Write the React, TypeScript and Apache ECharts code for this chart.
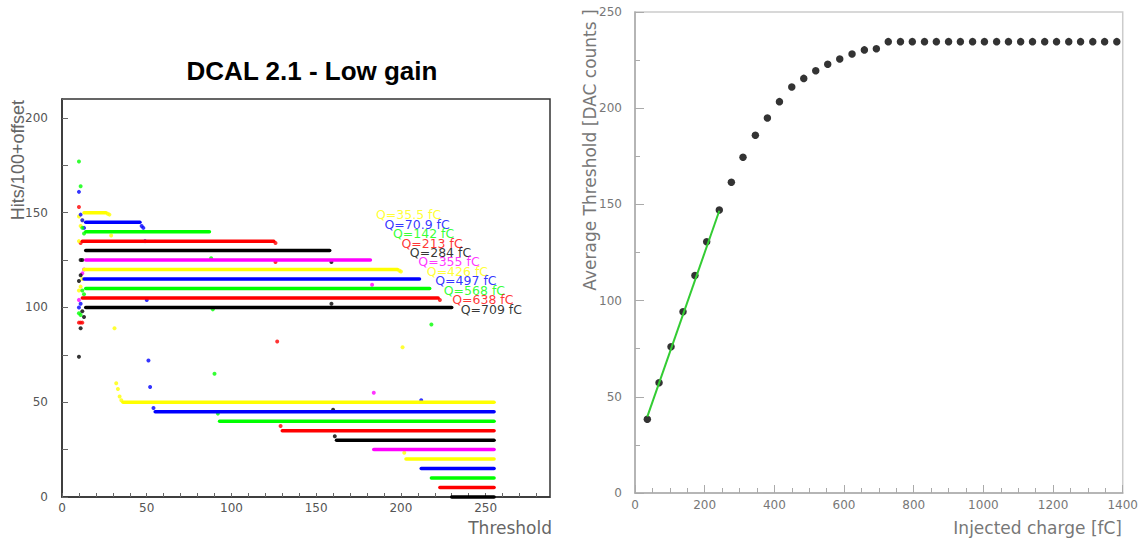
import { useEffect, useRef } from "react";
import * as echarts from "echarts";

// ---------- Left panel: DCAL 2.1 - Low gain ----------
const qLabels = ["Q=35.5 fC", "Q=70.9 fC", "Q=142 fC", "Q=213 fC", "Q=284 fC", "Q=355 fC", "Q=426 fC", "Q=497 fC", "Q=568 fC", "Q=638 fC", "Q=709 fC"];
const qColors = ["#ffff00", "#0000ff", "#00ff00", "#ff0000", "#000000", "#ff00ff", "#ffff00", "#0000ff", "#00ff00", "#ff0000", "#000000"];
const offsets = [50, 45, 40, 35, 30, 25, 20, 15, 10, 5, 0];
const plateauHits = 100;
const plateauStart = [13, 14, 14, 12, 14, 14, 13, 13, 14, 12, 14];
const plateauEnd = [26, 46, 87, 125, 158, 182, 198, 211, 217, 222, 230];
const tailStart = [36, 55, 93, 130, 162, 184, 203, 212, 218, 223, 230];
const tailEnd = 255;
// [threshold, hits/100] before the offset is added
const noiseHits: number[][][] = [
  [[10, 98], [12, 96], [11, 93]],
  [[10, 116], [11, 104], [12, 101], [13, 97]],
  [[10, 137], [11, 124], [12, 102], [13, 99]],
  [[10, 118], [11, 99]],
  [[11, 95], [12, 95]],
  [[10, 79], [12, 93], [13, 95]],
  [[10, 115], [10, 89], [11, 91], [12, 95]],
  [[10, 85], [11, 87]],
  [[10, 87], [11, 86], [12, 99], [13, 97]],
  [[10, 87], [11, 87], [12, 87]],
  [[10, 114], [11, 117], [10, 74], [11, 89], [12, 98], [13, 95]],
];
const transitionHits: number[][][] = [
  [[27, 99.5], [28, 99], [29, 88], [31, 39], [32, 10], [33, 7], [34, 3], [35, 1]],
  [[47, 98], [48, 97], [49, 90], [50, 59], [51, 27], [52, 13], [54, 2]],
  [[88, 86], [89, 59], [90, 25], [92, 4]],
  [[126, 99], [126, 89], [127, 47], [129, 2.5]],
  [[159, 94], [159, 72], [160, 16], [161, 2]],
  [[183, 87], [184, 30]],
  [[199, 99.5], [200, 99], [201, 59], [202, 3.4]],
  [[212, 36]],
  [[218, 81]],
  [[223, 99]],
  [],
];
const labelThreshold = [185, 190, 195, 200, 205, 210, 215, 220, 225, 230, 235];

// ---------- Right panel: threshold vs injected charge ----------
const injectedCharge = [35.4, 69, 103.4, 137.8, 172, 205.8, 242, 276.6, 310, 345.5, 380, 414.6, 450, 484.4, 518.8, 553.2, 587.7, 623, 658.4, 692.8,
  727, 762, 796, 831, 865, 900, 934, 969, 1003, 1038, 1072, 1107, 1141, 1176, 1210, 1245, 1279, 1314, 1348, 1383];
const avgThreshold = [38.3, 57.3, 76, 94.2, 113, 130.6, 147.1, 161.5, 174.5, 185.9, 194.9, 203.4, 211, 215.5, 219.5, 222.8, 225.6, 228.2, 230.3, 230.9,
  234.6, 234.6, 234.6, 234.6, 234.6, 234.6, 234.6, 234.6, 234.6, 234.6, 234.6, 234.6, 234.6, 234.6, 234.6, 234.6, 234.6, 234.6, 234.6, 234.6];
const fitCharge = [35.4, 242];
const fitThreshold = [39.7, 146.7];

export default function App() {
  const ref = useRef<HTMLDivElement>(null);
  useEffect(() => {
    if (!ref.current) return;
    const chart = echarts.init(ref.current, null, { renderer: "svg" });
    const series: any[] = [];
    qLabels.forEach((lab, i) => {
      const off = offsets[i];
      const color = qColors[i];
      series.push({
        type: "line", xAxisIndex: 0, yAxisIndex: 0, clip: false, silent: true, symbol: "none",
        data: [[plateauStart[i], off + plateauHits], [plateauEnd[i], off + plateauHits]],
        lineStyle: { color, width: 3.5, cap: "round" },
      });
      series.push({
        type: "line", xAxisIndex: 0, yAxisIndex: 0, clip: false, silent: true, symbol: "none",
        data: [[tailStart[i], off], [tailEnd, off]],
        lineStyle: { color, width: 3.5, cap: "round" },
      });
      series.push({
        type: "scatter", xAxisIndex: 0, yAxisIndex: 0, silent: true, symbolSize: 4,
        data: noiseHits[i].concat(transitionHits[i]).map(([t, h]) => [t, h + off]),
        itemStyle: { color },
      });
      series.push({
        type: "scatter", xAxisIndex: 0, yAxisIndex: 0, silent: true, symbolSize: 1,
        data: [[labelThreshold[i], off + plateauHits - 1]],
        itemStyle: { color: "transparent" },
        label: { show: true, position: "right", distance: 0, formatter: lab, color, fontSize: 12.5, lineHeight: 10, fontFamily: "DejaVu Sans" },
      });
    });
    series.push({
      type: "scatter", xAxisIndex: 1, yAxisIndex: 1, silent: true, symbolSize: 7.5,
      data: injectedCharge.map((c, i) => [c, avgThreshold[i]]),
      itemStyle: { color: "#000" }, z: 2,
    });
    series.push({
      type: "line", xAxisIndex: 1, yAxisIndex: 1, silent: true, symbol: "none",
      data: fitCharge.map((c, i) => [c, fitThreshold[i]]),
      lineStyle: { color: "#33cc33", width: 2 }, z: 3,
    });

    const leftLabel = { color: "#555", fontFamily: "DejaVu Sans", fontSize: 12 };
    const rightLabel = { color: "#777", fontFamily: "DejaVu Sans", fontSize: 12 };

    chart.setOption({
      animation: false,
      backgroundColor: "#fff",
      grid: [
        { left: 62, top: 99, width: 488, height: 398, show: true, borderColor: "#333", borderWidth: 1.5, containLabel: false },
        { left: 635, top: 12, width: 488, height: 481, show: true, borderColor: "#ccc", borderWidth: 1.5, containLabel: false },
      ],
      xAxis: [
        {
          gridIndex: 0, type: "value", min: 0, max: 288, interval: 10,
          axisLine: { show: true, onZero: false, lineStyle: { color: "#333", width: 1.5 } },
          axisTick: { show: true, inside: true, length: 4, lineStyle: { color: "#666" } },
          axisLabel: { ...leftLabel, margin: 5, formatter: (v: number) => (v % 50 === 0 ? String(v) : "") },
          splitLine: { show: false },
        },
        {
          gridIndex: 1, type: "value", min: 0, max: 1400, interval: 200,
          axisLine: { show: true, onZero: false, lineStyle: { color: "#aaa", width: 1.5 } },
          axisTick: { show: true, inside: true, length: 8, lineStyle: { color: "#aaa" } },
          minorTick: { show: true, splitNumber: 4, length: 5, lineStyle: { color: "#aaa" } },
          axisLabel: { ...rightLabel, margin: 6, formatter: (v: number) => String(v) },
          splitLine: { show: false },
        },
      ],
      yAxis: [
        {
          gridIndex: 0, type: "value", min: 0, max: 210, interval: 25,
          axisLine: { show: true, onZero: false, lineStyle: { color: "#333", width: 1.5 } },
          axisTick: { show: true, inside: true, length: 6, lineStyle: { color: "#666" } },
          axisLabel: { ...leftLabel, margin: 14, formatter: (v: number) => (v % 50 === 0 ? String(v) : "") },
          splitLine: { show: false },
        },
        {
          gridIndex: 1, type: "value", min: 0, max: 250, interval: 50,
          axisLine: { show: true, onZero: false, lineStyle: { color: "#aaa", width: 1.5 } },
          axisTick: { show: true, inside: true, length: 9, lineStyle: { color: "#aaa" } },
          minorTick: { show: true, splitNumber: 2, length: 5, lineStyle: { color: "#aaa" } },
          axisLabel: { ...rightLabel, margin: 13, formatter: (v: number) => String(v) },
          splitLine: { show: false },
        },
      ],
      graphic: [
        {
          type: "text", x: 312, y: 71,
          style: { text: "DCAL 2.1 - Low gain", font: 'bold 26px "Liberation Sans"', fill: "#000", align: "center", verticalAlign: "middle" },
        },
        {
          type: "text", x: 18, y: 160, rotation: Math.PI / 2,
          style: { text: "Hits/100+offset", font: '18px "Liberation Sans"', fill: "#666", align: "center", verticalAlign: "middle" },
        },
        {
          type: "text", x: 552, y: 528,
          style: { text: "Threshold", font: '17px "DejaVu Sans"', fill: "#666", align: "right", verticalAlign: "middle" },
        },
        {
          type: "text", x: 590, y: 150, rotation: Math.PI / 2,
          style: { text: "Average Threshold [DAC counts ]", font: '17px "DejaVu Sans"', fill: "#777", align: "center", verticalAlign: "middle" },
        },
        {
          type: "text", x: 1122, y: 528,
          style: { text: "Injected charge [fC]", font: '17px "DejaVu Sans"', fill: "#777", align: "right", verticalAlign: "middle" },
        },
      ],
      series,
    });
    return () => chart.dispose();
  }, []);
  return (
    <div
      ref={ref}
      style={{ position: "absolute", left: 0, top: 0, width: 1141, height: 540, background: "#fff" }}
    />
  );
}
